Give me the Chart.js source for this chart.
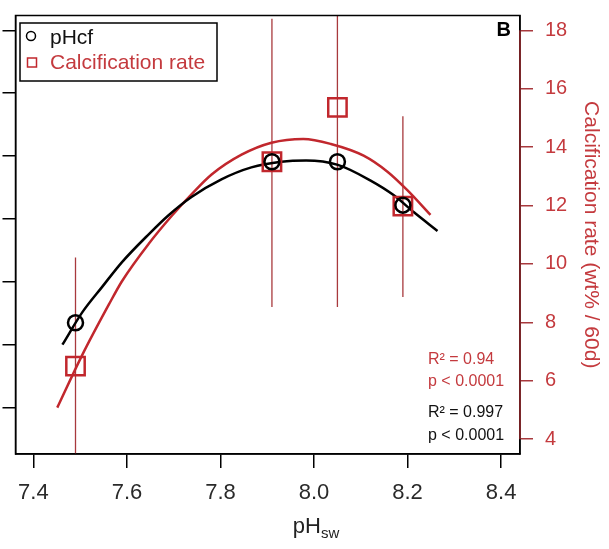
<!DOCTYPE html>
<html>
<head>
<meta charset="utf-8">
<script src="https://cdn.jsdelivr.net/npm/chart.js@4"></script>
<style>
html, body { margin: 0; padding: 0; background: #fff; }
#wrap { width: 609px; height: 549px; }
</style>
</head>
<body>
<div id="wrap"><canvas id="chart" width="609" height="549"></canvas></div>
<script>
// measured points
const phSw = [7.49, 7.91, 8.05, 8.19];
const phCf = [8.335, 8.591, 8.591, 8.522];
const calcRate = [6.50, 13.50, 15.36, 11.98];
const calcLow = [2.78, 8.53, 8.53, 8.87];
const calcHigh = [10.22, 18.40, 22.19, 15.06];

// fitted curves
const fitCfX = [7.462, 7.504, 7.547, 7.589, 7.647, 7.689, 7.738, 7.802, 7.866, 7.930, 7.983, 8.051, 8.121, 8.170, 8.213, 8.264];
const fitCfY = [8.300, 8.351, 8.392, 8.431, 8.476, 8.506, 8.535, 8.563, 8.582, 8.591, 8.593, 8.586, 8.561, 8.538, 8.511, 8.481];
const fitCalcX = [7.451, 7.504, 7.562, 7.589, 7.647, 7.696, 7.738, 7.781, 7.845, 7.909, 7.977, 8.036, 8.106, 8.157, 8.200, 8.249];
const fitCalcY = [5.08, 6.87, 8.63, 9.40, 10.70, 11.65, 12.38, 13.06, 13.74, 14.15, 14.28, 14.11, 13.71, 13.16, 12.52, 11.68];

const xTicks = [7.4, 7.6, 7.8, 8.0, 8.2, 8.4];
const leftTicks = [8.2, 8.3, 8.4, 8.5, 8.6, 8.7, 8.8];
const rightTicks = [4, 6, 8, 10, 12, 14, 16, 18];

const RED = '#c1272d';
const RED_TXT = '#c43a3e';
const FONT = '"Liberation Sans", Arial, sans-serif';

const errData = [];
phSw.forEach((x, i) => {
    errData.push({ x: x, y: calcLow[i] }, { x: x, y: calcHigh[i] }, { x: x, y: null });
});

function pairs(xs, ys) {
    return xs.map((x, i) => ({ x: x, y: ys[i] }));
}

function fixTicks(list) {
    return scale => { scale.ticks = list.map(v => ({ value: v })); };
}

function noPad(s) {
    s.paddingLeft = 0; s.paddingRight = 0; s.paddingTop = 0; s.paddingBottom = 0;
}

const decor = {
    id: 'decor',
    afterDatasetsDraw(chart) {
        const { ctx, chartArea: a, scales } = chart;
        ctx.save();
        // frame
        ctx.strokeStyle = '#000';
        ctx.lineWidth = 1.5;
        ctx.strokeRect(a.left, a.top, a.right - a.left, a.bottom - a.top);
        ctx.strokeStyle = '#9a2a2e';
        ctx.beginPath();
        ctx.moveTo(a.right, scales.y1.getPixelForValue(4));
        ctx.lineTo(a.right, scales.y1.getPixelForValue(18));
        ctx.stroke();

        // legend
        ctx.fillStyle = '#fff';
        ctx.fillRect(20, 23, 197, 58);
        ctx.strokeStyle = '#000';
        ctx.lineWidth = 1.5;
        ctx.strokeRect(20, 23, 197, 58);
        ctx.beginPath();
        ctx.arc(31, 36, 4.5, 0, Math.PI * 2);
        ctx.stroke();
        ctx.strokeStyle = RED;
        ctx.strokeRect(27.5, 58, 9, 9);
        ctx.font = '21px ' + FONT;
        ctx.textBaseline = 'middle';
        ctx.textAlign = 'left';
        ctx.fillStyle = '#111';
        ctx.fillText('pHcf', 50, 38);
        ctx.fillStyle = RED_TXT;
        ctx.fillText('Calcification rate', 50, 63);

        // panel letter
        ctx.font = 'bold 20px ' + FONT;
        ctx.textAlign = 'right';
        ctx.fillStyle = '#000';
        ctx.fillText('B', 511, 30);

        // fit stats
        ctx.font = '16px ' + FONT;
        ctx.textAlign = 'left';
        ctx.fillStyle = RED_TXT;
        ctx.fillText('R² = 0.94', 428, 360);
        ctx.fillText('p < 0.0001', 428, 382);
        ctx.fillStyle = '#111';
        ctx.fillText('R² = 0.997', 428, 413);
        ctx.fillText('p < 0.0001', 428, 436);

        // x axis title with subscript
        ctx.fillStyle = '#222';
        ctx.textBaseline = 'alphabetic';
        ctx.font = '22px ' + FONT;
        const w1 = ctx.measureText('pH').width;
        ctx.font = '15px ' + FONT;
        const w2 = ctx.measureText('sw').width;
        const x0 = 316 - (w1 + w2) / 2;
        ctx.font = '22px ' + FONT;
        ctx.fillText('pH', x0, 533);
        ctx.font = '15px ' + FONT;
        ctx.fillText('sw', x0 + w1, 538);
        ctx.restore();
    }
};

new Chart(document.getElementById('chart'), {
    type: 'scatter',
    data: {
        datasets: [
            {
                label: 'pHcf',
                data: pairs(phSw, phCf),
                yAxisID: 'y',
                pointStyle: 'circle',
                pointRadius: 7.5,
                borderColor: '#000',
                backgroundColor: 'rgba(0,0,0,0)',
                borderWidth: 2.5
            },
            {
                label: 'Calcification rate',
                data: pairs(phSw, calcRate),
                yAxisID: 'y1',
                pointStyle: 'rect',
                pointRadius: 13,
                borderColor: RED,
                backgroundColor: 'rgba(0,0,0,0)',
                borderWidth: 2.5
            },
            {
                type: 'line',
                label: 'pHcf fit',
                data: pairs(fitCfX, fitCfY),
                yAxisID: 'y',
                borderColor: '#000',
                borderWidth: 2.5,
                pointRadius: 0,
                cubicInterpolationMode: 'monotone',
                fill: false
            },
            {
                type: 'line',
                label: 'Calcification fit',
                data: pairs(fitCalcX, fitCalcY),
                yAxisID: 'y1',
                borderColor: RED,
                borderWidth: 2.5,
                pointRadius: 0,
                cubicInterpolationMode: 'monotone',
                fill: false
            },
            {
                type: 'line',
                label: 'SD',
                data: errData,
                yAxisID: 'y1',
                borderColor: '#a8393d',
                borderWidth: 1.3,
                pointRadius: 0,
                spanGaps: false,
                fill: false
            }
        ]
    },
    options: {
        responsive: false,
        animation: false,
        devicePixelRatio: 1,
        layout: { padding: { top: 10, left: 0, right: 0, bottom: 0 } },
        plugins: { legend: { display: false }, tooltip: { enabled: false } },
        scales: {
            x: {
                type: 'linear',
                position: 'bottom',
                min: 7.3617,
                max: 8.4404,
                afterBuildTicks: fixTicks(xTicks),
                afterFit: s => { s.height = 95; noPad(s); },
                grid: { drawOnChartArea: false, drawTicks: true, tickLength: 14, color: '#000', lineWidth: 1.5 },
                border: { display: true, color: '#000', width: 1.5 },
                ticks: {
                    font: { family: FONT, size: 22 },
                    color: '#2a2a2a',
                    padding: 12,
                    maxRotation: 0,
                    callback: v => v.toFixed(1)
                }
            },
            y: {
                type: 'linear',
                position: 'left',
                min: 8.1262,
                max: 8.8236,
                afterBuildTicks: fixTicks(leftTicks),
                afterFit: s => { s.width = 13; noPad(s); },
                grid: { drawOnChartArea: false, drawTicks: true, tickLength: 13, color: '#000', lineWidth: 1.5 },
                border: { display: true, color: '#000', width: 1.5 },
                ticks: { display: false }
            },
            y1: {
                type: 'linear',
                position: 'right',
                min: 3.493,
                max: 18.507,
                afterBuildTicks: fixTicks(rightTicks),
                afterFit: s => { s.width = 89; noPad(s); },
                grid: { drawOnChartArea: false, drawTicks: true, tickLength: 13, color: '#a8393d', lineWidth: 1.5 },
                border: { display: true, color: '#000', width: 1.5 },
                ticks: {
                    font: { family: FONT, size: 20 },
                    color: RED_TXT,
                    padding: 12
                },
                title: {
                    display: true,
                    text: 'Calcification rate (wt% / 60d)',
                    color: RED_TXT,
                    font: { family: FONT, size: 21 },
                    padding: { top: 6, bottom: 0 }
                }
            }
        }
    },
    plugins: [decor]
});
</script>
</body>
</html>
